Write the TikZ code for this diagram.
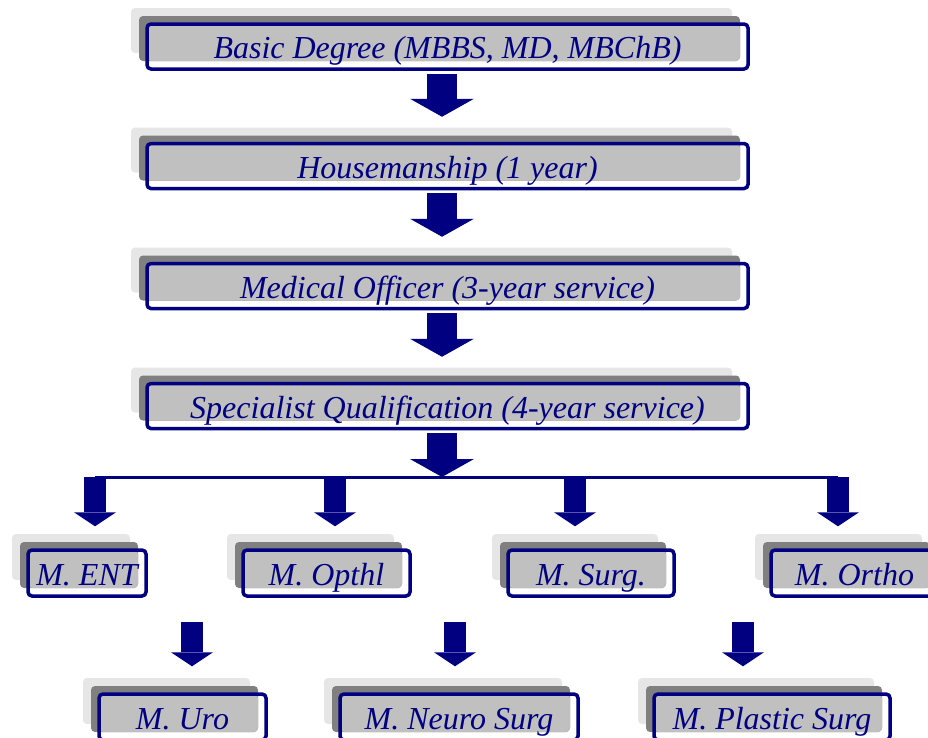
\documentclass[tikz,border=0pt]{standalone}
\usepackage{fontspec}
\setmainfont{Liberation Serif}
\usetikzlibrary{arrows.meta,shadows}
\definecolor{navyblue}{HTML}{000080}
\definecolor{shadelight}{HTML}{E6E6E6}
\definecolor{shadedark}{HTML}{808080}
\definecolor{boxfill}{HTML}{C0C0C0}

\begin{document}
\begin{tikzpicture}[x=1pt,y=-1pt,
		stagebox/.style={draw=navyblue,line width=3.5pt,rounded corners=4pt,inner sep=0pt,
			text=navyblue,font=\fontsize{32}{36}\selectfont\itshape,text height=24pt,text depth=0pt,
			general shadow={fill=shadelight,shadow xshift=-16pt,shadow yshift=16pt},
			general shadow={fill=shadedark,shadow xshift=-8pt,shadow yshift=8pt},
			path picture={\fill[boxfill] (path picture bounding box.north west) rectangle ([xshift=-8pt,yshift=8pt]path picture bounding box.south east);}},
		bigarrow/.style={draw=navyblue,line width=30pt,-{Triangle[length=18pt,width=64pt,line width=0pt]}},
		smallarrow/.style={draw=navyblue,line width=22pt,-{Triangle[length=14pt,width=42pt,line width=0pt]}}]
	\useasboundingbox (0,0) rectangle (928,737);

	% main path
	\begin{scope}[every node/.style={stagebox,minimum width=601pt,minimum height=45pt}]
		\node (basic) at (447.5,46.5) {Basic Degree (MBBS, MD, MBChB)};
		\node (house) at (447.5,166) {Housemanship (1 year)};
		\node (officer) at (447.5,286) {Medical Officer (3-year service)};
		\node (special) at (447.5,406) {Specialist Qualification (4-year service)};
	\end{scope}

	% masters
	\begin{scope}[every node/.style={stagebox,minimum height=46pt}]
		\node[minimum width=118pt] (ent) at (87,573) {M. ENT};
		\node[minimum width=167pt] (opthl) at (326.5,573) {M. Opthl};
		\node[minimum width=166pt] (surg) at (591,573) {M. Surg.};
		\node[minimum width=167pt] (ortho) at (854.5,573) {M. Ortho};
		\node[minimum width=167pt] (uro) at (182.5,717) {M. Uro};
		\node[minimum width=238pt] (neuro) at (459,717) {M. Neuro Surg};
		\node[minimum width=236pt] (plastic) at (772,717) {M. Plastic Surg};
	\end{scope}

	\coordinate (split) at (442,477);
	\coordinate (entTop) at (95,477);
	\coordinate (opthlTop) at (335,477);
	\coordinate (surgTop) at (575,477);
	\coordinate (orthoTop) at (838,477);
	\coordinate (uroTop) at (192,622);
	\coordinate (neuroTop) at (455,622);
	\coordinate (plasticTop) at (743,622);

	\begin{scope}[every edge/.style={bigarrow}]
		\path ([xshift=-5.5pt]basic.south) edge[shorten <=3pt,shorten >=25pt] ([xshift=-5.5pt]house.north);
		\path ([xshift=-5.5pt]house.south) edge[shorten <=3pt,shorten >=25pt] ([xshift=-5.5pt]officer.north);
		\path ([xshift=-5.5pt]officer.south) edge[shorten <=3pt,shorten >=25pt] ([xshift=-5.5pt]special.north);
		\path ([xshift=-5.5pt]special.south) edge[shorten <=3pt] (split);
	\end{scope}

	\draw[navyblue,line width=3pt] (entTop) -- (orthoTop);

	\begin{scope}[every edge/.style={smallarrow}]
		\path (entTop) edge[shorten >=22pt] (entTop |- ent.north);
		\path (opthlTop) edge[shorten >=22pt] (opthlTop |- opthl.north);
		\path (surgTop) edge[shorten >=22pt] (surgTop |- surg.north);
		\path (orthoTop) edge[shorten >=22pt] (orthoTop |- ortho.north);
		\path (uroTop) edge[shorten >=26pt] (uroTop |- uro.north);
		\path (neuroTop) edge[shorten >=26pt] (neuroTop |- neuro.north);
		\path (plasticTop) edge[shorten >=26pt] (plasticTop |- plastic.north);
	\end{scope}
\end{tikzpicture}
\end{document}
